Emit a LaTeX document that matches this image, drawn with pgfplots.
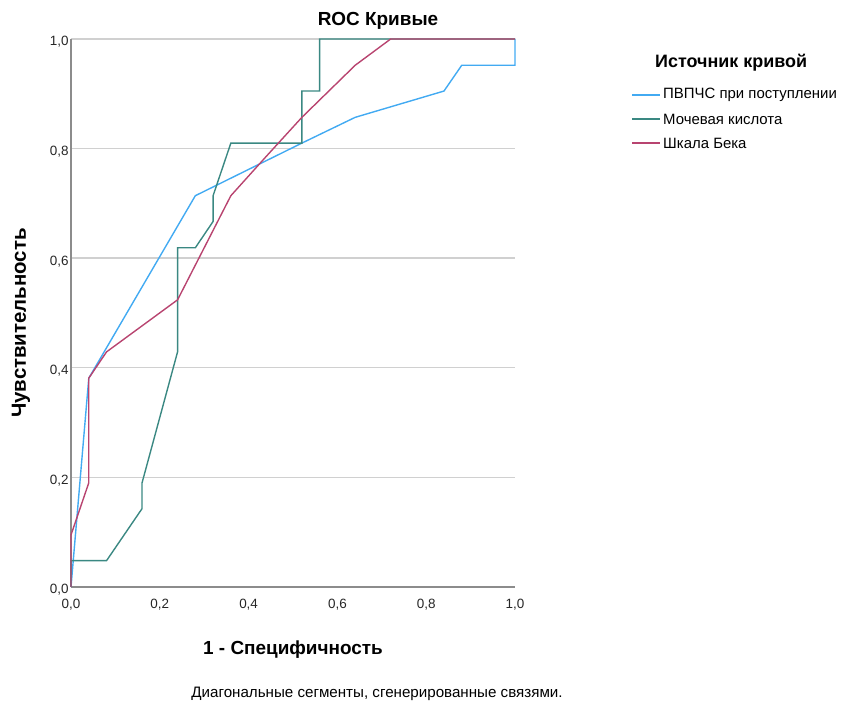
\documentclass[border=0pt]{standalone}
\usepackage{pgfplots}
\pgfplotsset{compat=1.18}
\usepackage{fontspec}
\setmainfont{Liberation Sans}
\definecolor{cblue}{RGB}{66,170,242}
\definecolor{cgreen}{RGB}{58,136,130}
\definecolor{cred}{RGB}{184,68,112}
\definecolor{gridc}{RGB}{208,208,208}
\definecolor{axc}{RGB}{140,140,140}
\begin{document}
\begin{tikzpicture}[x=1bp,y=1bp]
\useasboundingbox (0,0) rectangle (842,704);
\begin{axis}[
  at={(71bp,117bp)}, anchor=south west, scale only axis,
  width=444bp, height=548bp,
  xmin=0, xmax=1, ymin=0, ymax=1,
  clip=false,
  axis x line*=bottom, axis y line*=left,
  axis line style={axc, line width=1.2pt},
  xtick={0,0.2,0.4,0.6,0.8,1}, ytick={0,0.2,0.4,0.6,0.8,1},
  major tick length=0pt,
  ymajorgrids, grid style={gridc, line width=1.4pt},
  tick label style={font=\fontsize{13.5}{15}\selectfont, text=black!85},
  xticklabel style={yshift=-9bp},
  yticklabel style={yshift=-3bp, xshift=1bp},
  /pgf/number format/fixed,
  /pgf/number format/fixed zerofill,
  /pgf/number format/precision=1,
  /pgf/number format/use comma,
  /pgf/number format/assume math mode=true,
]
\addplot[cblue, line width=1.4pt] coordinates {
 (0,0) (0.04,0.381) (0.28,0.714) (0.52,0.810) (0.64,0.857) (0.84,0.905)
 (0.88,0.952) (1,0.952) (1,1)};
\addplot[cgreen, line width=1.4pt] coordinates {
 (0,0) (0,0.048) (0.08,0.048) (0.16,0.143) (0.16,0.190) (0.24,0.429)
 (0.24,0.619) (0.28,0.619) (0.32,0.667) (0.32,0.714) (0.36,0.810)
 (0.52,0.810) (0.52,0.905) (0.56,0.905) (0.56,1) (1,1)};
\addplot[cred, line width=1.4pt] coordinates {
 (0,0) (0,0.095) (0.04,0.190) (0.04,0.381) (0.08,0.429) (0.24,0.524)
 (0.36,0.714) (0.44,0.786) (0.52,0.857) (0.64,0.952) (0.72,1) (1,1)};
\end{axis}
% titles
\node[anchor=base, font=\fontsize{19}{22}\selectfont\bfseries] at (378,678) {ROC Кривые};
\node[anchor=base, font=\fontsize{19}{22}\selectfont\bfseries] at (293,49) {1 - Специфичность};
\node[anchor=center, rotate=90, font=\fontsize{20.5}{24}\selectfont\bfseries] at (21,381) {Чувствительность};
\node[anchor=base, font=\fontsize{15.2}{17}\selectfont] at (377,6) {Диагональные сегменты, сгенерированные связями.};
% legend
\node[anchor=base west, inner sep=0pt, font=\fontsize{18}{21}\selectfont\bfseries] at (655,636) {Источник кривой};
\draw[cblue, line width=1.4pt] (632,609) -- (660,609);
\draw[cgreen, line width=1.4pt] (632,585) -- (660,585);
\draw[cred, line width=1.4pt] (632,561) -- (660,561);
\node[anchor=west, inner sep=0pt, font=\fontsize{15}{17}\selectfont] at (663,609) {ПВПЧС при поступлении};
\node[anchor=west, inner sep=0pt, font=\fontsize{15}{17}\selectfont] at (663,585) {Мочевая кислота};
\node[anchor=west, inner sep=0pt, font=\fontsize{15}{17}\selectfont] at (663,561) {Шкала Бека};
\end{tikzpicture}
\end{document}
